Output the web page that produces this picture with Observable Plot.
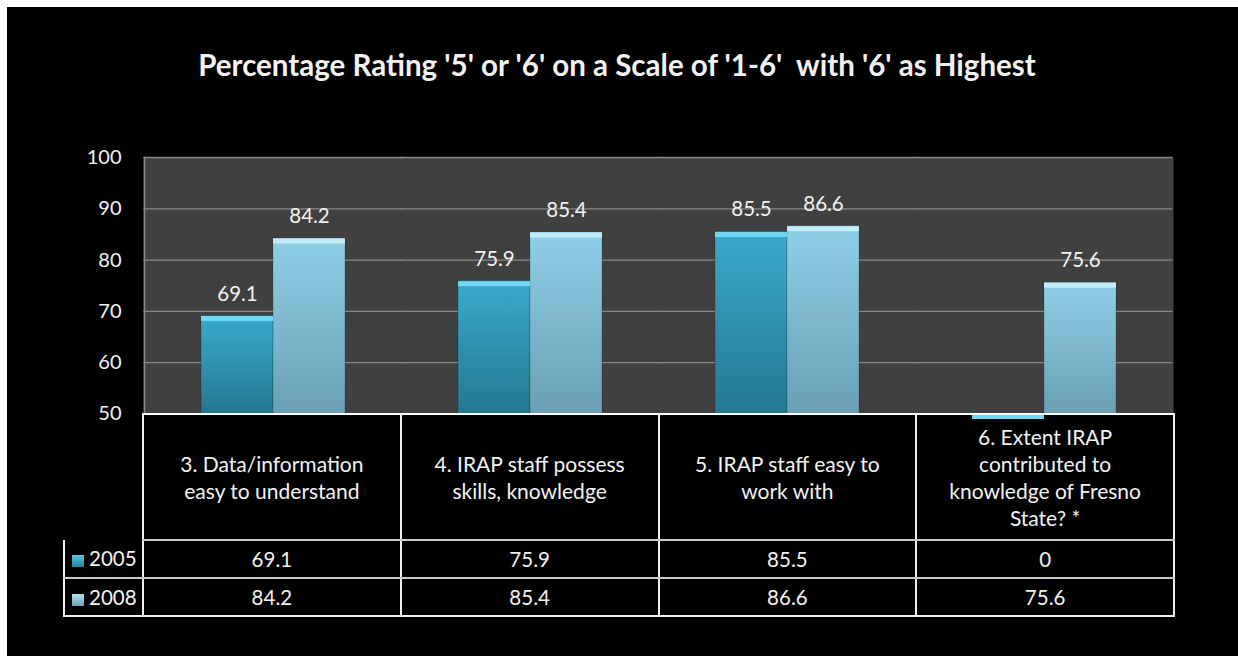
<!DOCTYPE html>
<html><head><meta charset="utf-8">
<script src="https://cdn.jsdelivr.net/npm/d3@7"></script>
<script src="https://cdn.jsdelivr.net/npm/@observablehq/plot@0.6"></script>
<style>
html,body{margin:0;padding:0;background:#fff;}
#wrap{position:absolute;left:7px;top:7px;width:1231px;height:649px;background:#000;overflow:hidden;font-family:Lato,"Open Sans",sans-serif;color:#f2f2f2;}
#title{position:absolute;left:0;top:40px;width:1220px;text-align:center;font-weight:bold;font-size:29.5px;line-height:36px;white-space:pre;color:#f2f2f2;}
#chart{position:absolute;left:0;top:0;}
#tbl{position:absolute;left:56px;top:405.5px;border-collapse:collapse;table-layout:fixed;font-size:20.5px;color:#f2f2f2;}
#tbl td{padding:0;text-align:center;vertical-align:middle;}
#tbl td.h{border-top:2px solid #fff;border-left:2px solid #f0f0f0;border-right:2px solid #f0f0f0;border-bottom:2px solid #c8c8c8;line-height:27px;font-size:21px;white-space:pre-line;height:124px;}
#tbl td.e{border:none;}
#tbl td.v{border-left:2px solid #f0f0f0;border-right:2px solid #f0f0f0;border-bottom:2px solid #c8c8c8;height:36px;}
#tbl tr.last td.v{border-bottom:2px solid #f0f0f0;}
#tbl td.lg{text-align:left;padding-left:7px;white-space:nowrap;}
.key{display:inline-block;width:12px;height:12px;margin-right:5px;vertical-align:-1px;}
</style>
</head><body>
<div id="wrap">
  <div id="title"></div>
  <div id="chart"></div>
  <table id="tbl"></table>
</div>
<script>
const title = "Percentage Rating '5' or '6' on a Scale of '1-6'  with '6' as Highest";
const categories = [
  "3. Data/information\neasy to understand",
  "4. IRAP staff possess\nskills, knowledge",
  "5. IRAP staff easy to\nwork with",
  "6. Extent IRAP\ncontributed to\nknowledge of Fresno\nState? *"
];
const years = ["2005", "2008"];
const values2005 = [69.1, 75.9, 85.5, 0];
const values2008 = [84.2, 85.4, 86.6, 75.6];
const yTicks = [50, 60, 70, 80, 90, 100];
const tableValues2005 = ["69.1", "75.9", "85.5", "0"];
const tableValues2008 = ["84.2", "85.4", "86.6", "75.6"];

const grads = {
  "2005": {top: "#3aaacb", bottom: "#237890", bevel: "#70d8f0", css: "linear-gradient(#5cc6e3,#24809a)"},
  "2008": {top: "#8fd0e7", bottom: "#6b9fb4", bevel: "#c2ecf8", css: "linear-gradient(#b6e3f2,#6b9fb4)"}
};

document.getElementById("title").textContent = title;

const data = categories.flatMap((c, i) => [
  {category: c, year: years[0], value: values2005[i]},
  {category: c, year: years[1], value: values2008[i]}
]);

const W = 1231, mL = 135, mR = 65;
const chart = Plot.plot({
  width: W, height: 420,
  marginLeft: mL, marginRight: mR, marginTop: 150, marginBottom: 13.5,
  style: {background: "transparent", color: "#f2f2f2", fontFamily: "Lato, 'Open Sans', sans-serif", fontSize: "20px", overflow: "visible"},
  fx: {domain: categories, padding: 0, axis: null},
  x: {domain: years, paddingInner: 0, paddingOuter: 0.765, axis: null},
  y: {domain: [50, 100], clamp: true, axis: null},
  color: {domain: years, range: years.map(y => `url(#g${y})`)},
  marks: [
    Plot.frame({fill: "#404040", stroke: "none", insetLeft: -1, insetRight: -1}),
    Plot.gridY({ticks: yTicks, stroke: "#878787", strokeOpacity: 1, strokeWidth: 1.3, insetLeft: -0.6, insetRight: -0.6}),
    Plot.frame({anchor: "left", stroke: "#878787", strokeWidth: 1.5, facetAnchor: "left"}),
    Plot.barY(data, {fx: "category", x: "year", y: "value", fill: "year", stroke: "rgba(0,0,0,0.18)", strokeWidth: 1}),
    Plot.tickY(data.filter(d => d.year === years[0]), {fx: "category", x: "year", y: "value", stroke: grads["2005"].bevel, strokeWidth: 5, dy: 2.5}),
    Plot.tickY(data.filter(d => d.year === years[1]), {fx: "category", x: "year", y: "value", stroke: grads["2008"].bevel, strokeWidth: 5, dy: 2.5}),
    Plot.text(data.filter(d => d.value > 50), {fx: "category", x: "year", y: "value", text: d => d.value.toFixed(1), dy: -22, fontSize: 20.5, fill: "#f2f2f2"}),
    Plot.axisY({ticks: yTicks, tickSize: 0, tickPadding: 23, fontSize: 20, fill: "#f2f2f2", label: null})
  ]
});

const defs = d3.select(chart).insert("defs", ":first-child");
for (const y of years) {
  const g = defs.append("linearGradient").attr("id", `g${y}`).attr("x1", 0).attr("y1", 0).attr("x2", 0).attr("y2", 1);
  g.append("stop").attr("offset", "0%").attr("stop-color", grads[y].top);
  g.append("stop").attr("offset", "100%").attr("stop-color", grads[y].bottom);
}
document.getElementById("chart").appendChild(chart);

// data table built from the same arrays
const colW = (W - mL - mR) / categories.length;
const tbl = document.getElementById("tbl");
const cg = document.createElement("colgroup");
cg.innerHTML = `<col style="width:79px">` + categories.map(() => `<col style="width:${colW}px">`).join("");
tbl.appendChild(cg);
const hr = document.createElement("tr");
hr.innerHTML = `<td class="e"></td>` + categories.map(c => `<td class="h"></td>`).join("");
categories.forEach((c, i) => hr.children[i + 1].textContent = c);
tbl.appendChild(hr);
[[years[0], tableValues2005], [years[1], tableValues2008]].forEach(([yr, vals], k) => {
  const tr = document.createElement("tr");
  if (k === 1) tr.className = "last";
  tr.innerHTML = `<td class="v lg"><span class="key" style="background:${grads[yr].css}"></span>${yr}</td>` +
    vals.map(v => `<td class="v">${v}</td>`).join("");
  tbl.appendChild(tr);
});
</script>
</body></html>
